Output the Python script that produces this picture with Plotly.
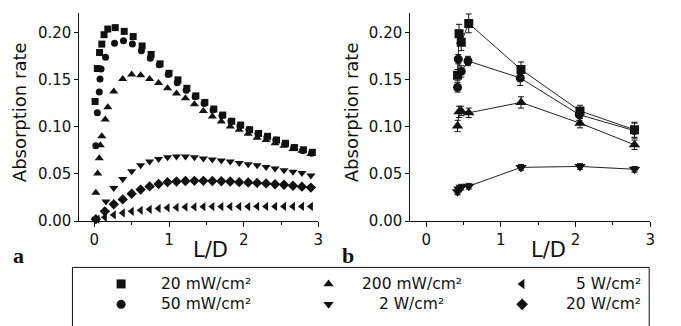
import plotly.graph_objects as go

# ---------------- Panel a data ----------------
a_x_20mw = [0.01, 0.04, 0.07, 0.10, 0.13, 0.18, 0.28, 0.40, 0.52, 0.64, 0.76, 0.88, 1.00, 1.12, 1.24, 1.36,
            1.48, 1.60, 1.72, 1.84, 1.96, 2.08, 2.20, 2.32, 2.44, 2.56, 2.68, 2.80, 2.92]
a_y_20mw = [0.127, 0.162, 0.179, 0.188, 0.198, 0.204, 0.2055, 0.2015, 0.196, 0.186, 0.177, 0.167, 0.157, 0.150,
            0.141, 0.133, 0.126, 0.119, 0.1126, 0.106, 0.102, 0.097, 0.093, 0.090, 0.086, 0.0826, 0.078, 0.0757, 0.073]

a_x_50mw = [0.02, 0.04, 0.066, 0.076, 0.09, 0.15, 0.27, 0.39, 0.51, 0.63, 0.75, 0.87, 0.99, 1.11, 1.23, 1.35,
            1.47, 1.59, 1.71, 1.83, 1.95, 2.07, 2.19, 2.31, 2.43, 2.55, 2.67, 2.79, 2.91]
a_y_50mw = [0.080, 0.115, 0.137, 0.151, 0.1615, 0.174, 0.189, 0.1915, 0.188, 0.181, 0.173, 0.166, 0.1556, 0.147,
            0.139, 0.132, 0.125, 0.118, 0.112, 0.106, 0.101, 0.097, 0.093, 0.089, 0.086, 0.082, 0.078, 0.075, 0.072]

a_x_200mw = [0.02, 0.045, 0.066, 0.08, 0.10, 0.146, 0.18, 0.26, 0.38, 0.50, 0.62, 0.74, 0.86, 0.98, 1.10, 1.22,
             1.34, 1.46, 1.58, 1.70, 1.82, 1.94, 2.06, 2.18, 2.30, 2.42, 2.54, 2.66, 2.78, 2.90]
a_y_200mw = [0.030, 0.0506, 0.0668, 0.0806, 0.090, 0.108, 0.121, 0.1377, 0.151, 0.1556, 0.155, 0.151, 0.1467,
             0.141, 0.1356, 0.1305, 0.124, 0.117, 0.111, 0.1057, 0.1005, 0.097, 0.0926, 0.0885, 0.086, 0.0826,
             0.080, 0.0765, 0.0747, 0.0713]

a_x_2w = [0.02, 0.155, 0.26, 0.38, 0.50, 0.62, 0.74, 0.86, 0.98, 1.10, 1.22, 1.34, 1.46, 1.58, 1.70, 1.82,
          1.94, 2.06, 2.18, 2.30, 2.42, 2.54, 2.66, 2.78, 2.90]
a_y_2w = [0.0024, 0.0207, 0.035, 0.0447, 0.053, 0.0592, 0.0633, 0.066, 0.0678, 0.0685, 0.0685, 0.0678, 0.0665,
          0.0654, 0.0644, 0.0633, 0.0616, 0.0602, 0.0592, 0.0575, 0.0558, 0.054, 0.0523, 0.051, 0.0485]

a_x_20w = [0.02, 0.14, 0.26, 0.38, 0.50, 0.62, 0.74, 0.86, 0.98, 1.10, 1.22, 1.34, 1.46, 1.58, 1.70, 1.82,
           1.94, 2.06, 2.18, 2.30, 2.42, 2.54, 2.66, 2.78, 2.90]
a_y_20w = [0.002, 0.0103, 0.0179, 0.023, 0.029, 0.0334, 0.0368, 0.0393, 0.0413, 0.042, 0.0425, 0.0427, 0.0427,
           0.0425, 0.0422, 0.042, 0.0413, 0.041, 0.0405, 0.040, 0.039, 0.0385, 0.0375, 0.0365, 0.0355]

a_x_5w = [0.04, 0.14, 0.26, 0.38, 0.50, 0.62, 0.74, 0.86, 0.98, 1.10, 1.22, 1.34, 1.46, 1.58, 1.70, 1.82,
          1.94, 2.06, 2.18, 2.30, 2.42, 2.54, 2.66, 2.78, 2.90]
a_y_5w = [0.002, 0.004, 0.0065, 0.0086, 0.0103, 0.0114, 0.0124, 0.0134, 0.014, 0.0145, 0.0148, 0.015, 0.0152,
          0.0153, 0.0153, 0.0154, 0.0154, 0.0154, 0.0155, 0.0155, 0.0155, 0.0155, 0.0155, 0.0155, 0.0155]

# ---------------- Panel b data ----------------
b_x_20mw = [0.42, 0.44, 0.47, 0.57, 1.27, 2.06, 2.79]
b_y_20mw = [0.155, 0.199, 0.190, 0.210, 0.161, 0.117, 0.097]
b_e_20mw = [0.006, 0.010, 0.009, 0.010, 0.008, 0.006, 0.008]

b_x_50mw = [0.42, 0.43, 0.47, 0.56, 1.26, 2.05, 2.79]
b_y_50mw = [0.142, 0.172, 0.159, 0.170, 0.152, 0.113, 0.096]
b_e_50mw = [0.005, 0.005, 0.006, 0.005, 0.008, 0.006, 0.008]

b_x_200mw = [0.42, 0.44, 0.47, 0.57, 1.27, 2.06, 2.79]
b_y_200mw = [0.101, 0.116, 0.117, 0.115, 0.126, 0.104, 0.081]
b_e_200mw = [0.006, 0.006, 0.005, 0.005, 0.006, 0.005, 0.005]

b_x_2w = [0.42, 0.44, 0.47, 0.57, 1.27, 2.06, 2.79]
b_y_2w = [0.031, 0.034, 0.036, 0.037, 0.057, 0.058, 0.055]
b_e_2w = [0.003, 0.003, 0.003, 0.003, 0.003, 0.003, 0.003]

legend_labels = ["20 mW/cm²", "50 mW/cm²", "200 mW/cm²", "2 W/cm²", "5 W/cm²", "20 W/cm²"]
legend_symbols = ["square", "circle", "triangle-up", "triangle-down", "triangle-left", "diamond"]

W, H = 681, 326
INK = "#111111"
FONT = "DejaVu Sans, Liberation Sans, sans-serif"

fig = go.Figure()

# panel a
a_series = [
    (a_x_20mw, a_y_20mw, "square", 7),
    (a_x_50mw, a_y_50mw, "circle", 7),
    (a_x_200mw, a_y_200mw, "triangle-up", 8),
    (a_x_2w, a_y_2w, "triangle-down", 8),
    (a_x_5w, a_y_5w, "triangle-left", 8),
    (a_x_20w, a_y_20w, "diamond", 8),
]
for xs, ys, sym, sz in a_series:
    fig.add_trace(go.Scatter(x=xs, y=ys, mode="markers", xaxis="x", yaxis="y", showlegend=False, cliponaxis=False,
                             marker=dict(symbol=sym, size=sz, color=INK, line=dict(width=0))))

# panel b
b_series = [
    (b_x_20mw, b_y_20mw, b_e_20mw, "square", 9),
    (b_x_50mw, b_y_50mw, b_e_50mw, "circle", 9),
    (b_x_200mw, b_y_200mw, b_e_200mw, "triangle-up", 10),
    (b_x_2w, b_y_2w, b_e_2w, "triangle-down", 10),
]
for xs, ys, es, sym, sz in b_series:
    fig.add_trace(go.Scatter(x=xs, y=ys, mode="lines+markers", xaxis="x2", yaxis="y2", showlegend=False,
                             line=dict(color="#222222", width=1),
                             error_y=dict(type="data", array=es, visible=True, color=INK, thickness=1, width=3),
                             marker=dict(symbol=sym, size=sz, color=INK, line=dict(width=0))))

# legend layout (pixels)
LEG_TOP = 275
leg_pos_x = [122, 122, 331, 331, 526, 526]
leg_pos_y = [292, 313, 292, 313, 292, 313]
for sym, lx, ly in zip(legend_symbols, leg_pos_x, leg_pos_y):
    fig.add_trace(go.Scatter(x=[lx], y=[ly], mode="markers", xaxis="x3", yaxis="y3", showlegend=False,
                             marker=dict(symbol=sym, size=9, color=INK, line=dict(width=0))))

YDOM = [1 - 227.3 / H, 1 - 13.3 / H]
common_x = dict(showline=True, linecolor=INK, linewidth=1, ticks="outside", ticklen=5, tickwidth=1,
                tickcolor=INK, tickvals=[0, 1, 2, 3], showgrid=False, zeroline=False,
                tickfont=dict(family=FONT, size=15, color=INK),
                minor=dict(tickvals=[0.5, 1.5, 2.5], ticklen=3, ticks="outside", tickcolor=INK, showgrid=False))
common_y = dict(showline=True, linecolor=INK, linewidth=1, ticks="outside", ticklen=4, tickwidth=1,
                tickcolor=INK, tickvals=[0, 0.05, 0.10, 0.15, 0.20], tickformat=".2f", range=[0, 0.2211],
                showgrid=False, zeroline=False, tickfont=dict(family=FONT, size=15, color=INK))

fig.update_layout(
    width=W, height=H, margin=dict(l=0, r=0, t=0, b=0),
    paper_bgcolor="white", plot_bgcolor="rgba(0,0,0,0)",
    xaxis=dict(domain=[80 / W, 320.7 / W], range=[-0.2, 3.0], anchor="y", **common_x),
    yaxis=dict(domain=YDOM, anchor="x", **common_y),
    xaxis2=dict(domain=[413.3 / W, 655 / W], range=[-0.213, 3.0], anchor="y2", **common_x),
    yaxis2=dict(domain=YDOM, anchor="x2", **common_y),
    xaxis3=dict(domain=[0, 1], range=[0, W], visible=False, anchor="y3", fixedrange=True),
    yaxis3=dict(domain=[0, 1], range=[H, 0], visible=False, anchor="x3", fixedrange=True),
    showlegend=False,
)

def px(x):
    return x / W

def py(y):
    return 1 - y / H

ann = []
# axis titles
for cx in (19.5, 354):
    ann.append(dict(text="Absorption rate", x=px(cx), y=py(115), xref="paper", yref="paper",
                    textangle=-90, showarrow=False, xanchor="center", yanchor="middle",
                    font=dict(family=FONT, size=18, color=INK)))
for cx in (212, 553):
    ann.append(dict(text="L/D", x=px(cx), y=py(257), xref="paper", yref="paper", showarrow=False,
                    xanchor="center", yanchor="middle", font=dict(family=FONT, size=21, color=INK)))
# panel letters
for lab, cx in (("a", 19), ("b", 351)):
    ann.append(dict(text="<b>" + lab + "</b>", x=px(cx), y=py(263), xref="paper", yref="paper",
                    showarrow=False, xanchor="center", yanchor="middle",
                    font=dict(family="Liberation Serif, Times New Roman, serif", size=22, color=INK)))
# legend text
leg_text_x = [160, 160, 415, 415, 648, 648]
leg_text_anchor = ["left", "left", "center", "center", "right", "right"]
for lab, tx, ta, ly in zip(legend_labels, leg_text_x, leg_text_anchor, leg_pos_y):
    ann.append(dict(text=lab, x=px(tx), y=py(ly), xref="paper", yref="paper", showarrow=False,
                    xanchor=ta, yanchor="middle", font=dict(family=FONT, size=15.5, color=INK)))
fig.update_layout(annotations=ann)

# legend box
fig.add_shape(type="rect", xref="paper", yref="paper", x0=px(73), x1=px(654), y0=py(345), y1=py(LEG_TOP),
              line=dict(color=INK, width=1), fillcolor="rgba(0,0,0,0)", layer="below")

fig.write_html("out.html", config={"displayModeBar": False},
               post_script="document.body.style.margin='0';document.body.style.overflow='hidden';")
